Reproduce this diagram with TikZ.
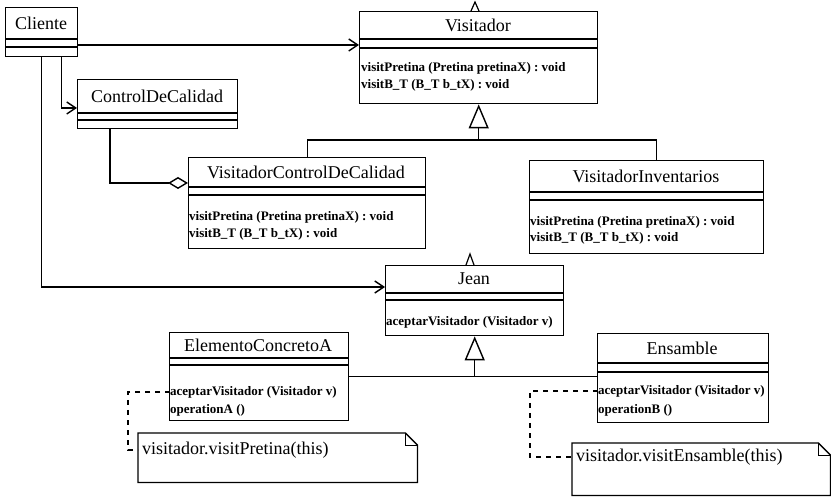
\documentclass[tikz,border=0pt]{standalone}
\usepackage{fontspec}
\setmainfont{Liberation Serif}
\usetikzlibrary{arrows.meta,calc}

\begin{document}
\begin{tikzpicture}[x=1pt,y=-1pt,
  cls/.style={draw, line width=1.4pt, anchor=north west, inner sep=0pt},
  cline/.style={line width=1.3pt},
  cname/.style={inner sep=0pt, font=\fontsize{18}{20}\selectfont},
  op/.style={anchor=west, inner sep=0pt, font=\fontsize{13}{14}\selectfont\bfseries},
  notetxt/.style={anchor=west, inner sep=0pt, font=\fontsize{18}{20}\selectfont},
  assoc/.style={line width=1.4pt, -{Straight Barb[length=9pt,width=12pt]}},
  gen/.style={line width=1.4pt, -{Triangle[open,length=24pt,width=20pt]}},
  aggr/.style={line width=1.4pt, -{Diamond[open,length=20pt,width=12pt]}},
  notelink/.style={line width=1.3pt, dash pattern=on 5pt off 5pt}
]
\useasboundingbox (0,0) rectangle (831,497);

% classes
\node[cls, minimum width=72, minimum height=49] (cli) at (5,7) {};
\node[cls, minimum width=238, minimum height=92] (vis) at (359,11) {};
\node[cls, minimum width=160, minimum height=49] (cdc) at (77,79) {};
\node[cls, minimum width=237, minimum height=91] (vcc) at (188,157) {};
\node[cls, minimum width=234, minimum height=93] (vinv) at (529,160) {};
\node[cls, minimum width=178, minimum height=70] (jean) at (385,265) {};
\node[cls, minimum width=179, minimum height=88] (eca) at (169,332) {};
\node[cls, minimum width=171, minimum height=89] (ens) at (597,333) {};

\foreach \n/\a/\b in {cli/39/47, vis/39/48, cdc/113/120, vcc/187/195,
    vinv/192/200, jean/293/300, eca/358/365, ens/363/372} {
  \draw[cline] (\n.west |- 0,\a) -- (\n.east |- 0,\a);
  \draw[cline] (\n.west |- 0,\b) -- (\n.east |- 0,\b);
}

\node[cname] (cli-name) at (41,23) {Cliente};
\node[cname] (vis-name) at (478,25) {Visitador};
\node[cname] (cdc-name) at (157,96) {ControlDeCalidad};
\node[cname] (vcc-name) at (306,172) {VisitadorControlDeCalidad};
\node[cname] (vinv-name) at (646,176) {VisitadorInventarios};
\node[cname] (jean-name) at (474,279) {Jean};
\node[cname] (eca-name) at (258,345) {ElementoConcretoA};
\node[cname] (ens-name) at (682,348) {Ensamble};

\node[op] (vis-op1) at (361,68) {visitPretina (Pretina pretinaX) : void};
\node[op] (vis-op2) at (361,85) {visitB\_T (B\_T b\_tX) : void};
\node[op] (vcc-op1) at (189,217) {visitPretina (Pretina pretinaX) : void};
\node[op] (vcc-op2) at (189,234) {visitB\_T (B\_T b\_tX) : void};
\node[op] (vinv-op1) at (530,222) {visitPretina (Pretina pretinaX) : void};
\node[op] (vinv-op2) at (530,238) {visitB\_T (B\_T b\_tX) : void};
\node[op] (jean-op1) at (386,322) {aceptarVisitador (Visitador v)};
\node[op] (eca-op1) at (170,392) {aceptarVisitador (Visitador v)};
\node[op] (eca-op2) at (170,410) {operationA ()};
\node[op] (ens-op1) at (598,391) {aceptarVisitador (Visitador v)};
\node[op] (ens-op2) at (598,410) {operationB ()};

% notes
\node[anchor=north west, inner sep=0pt, minimum width=279, minimum height=49] (notea) at (138,433) {};
\node[anchor=north west, inner sep=0pt, minimum width=258, minimum height=52] (noteb) at (572,443) {};
\foreach \n in {notea, noteb} {
  \draw[cline] (\n.north west) -- ($(\n.north east)+(-12,0)$) -- ($(\n.north east)+(0,12)$)
    -- (\n.south east) -- (\n.south west) -- cycle;
  \draw[line width=1pt] ($(\n.north east)+(-12,0)$) -- ++(0,12) -- ++(12,0);
}
\node[notetxt] (notea-txt) at (142,450) {visitador.visitPretina(this)};
\node[notetxt] (noteb-txt) at (576,457) {visitador.visitEnsamble(this)};

% stubs above Visitador and Jean
\draw[line width=1.2pt] (471,11) -- (475,2) -- (479,11);
\draw[line width=1.2pt] (466,265) -- (470,254) -- (474,265);

% connectors
\draw[assoc] (cli.east |- 0,45) -- (vis.west |- 0,45);
\draw[assoc] ($(cli.south)+(20,0)$) |- (cdc.west |- 0,108);
\draw[assoc] (cli.south) |- (jean.west |- 0,287);
\draw[aggr] ($(cdc.south west)+(33,0)$) |- (vcc.west |- 0,183);

\coordinate (g1) at (vis.south |- 0,140);
\draw[gen] (g1) -- (vis.south);
\draw[cline] (vcc.north) |- (g1);
\draw[cline] ($(vinv.north)+(10,0)$) |- (g1);

\draw[cline] (eca.east) -- (ens.west |- eca.east);
\draw[gen] (jean.south |- eca.east) -- (jean.south);

\draw[notelink] (eca-op1.west) -- ++(-42,0) |- (notea.west |- notea-txt.west);
\draw[notelink] (ens-op1.west) -- ++(-68,0) |- (noteb.west |- noteb-txt.west);
\end{tikzpicture}
\end{document}
